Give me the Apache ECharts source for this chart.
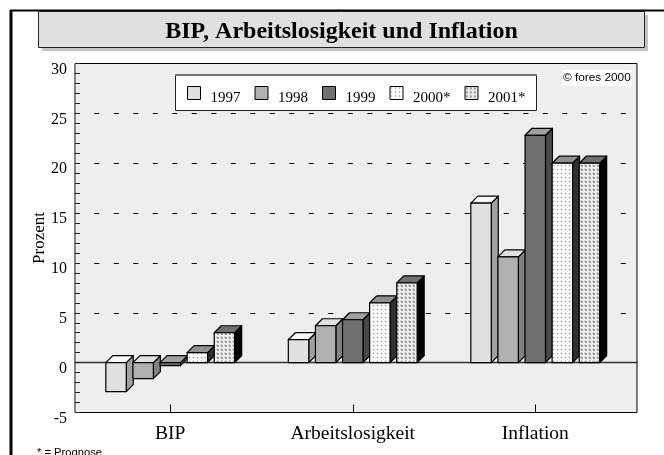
<!DOCTYPE html>
<html>
<head>
<meta charset="utf-8">
<style>html,body{margin:0;padding:0;background:#fff}#chart{width:664px;height:455px}</style>
<script src="https://cdn.jsdelivr.net/npm/echarts@6/dist/echarts.min.js"></script>
</head>
<body>
<div id="chart"></div>
<script>
const categories = ['BIP', 'Arbeitslosigkeit', 'Inflation']
const seriesNames = ['1997', '1998', '1999', '2000*', '2001*']
const values1997 = [-2.9, 2.3, 16]
const values1998 = [-1.6, 3.7, 10.6]
const values1999 = [-0.3, 4.3, 22.8]
const values2000 = [1, 6, 20]
const values2001 = [3, 8, 20]
const allValues = [values1997, values1998, values1999, values2000, values2001]

const serif = '"Liberation Serif", "Times New Roman", serif'
const sans = '"Liberation Sans", Arial, sans-serif'

function dots(bg, halo, fg, size) {
  const c = document.createElement('canvas')
  c.width = 4
  c.height = 4
  const g = c.getContext('2d')
  g.fillStyle = bg
  g.fillRect(0, 0, 4, 4)
  g.fillStyle = halo
  g.fillRect(0, 1, 3, 1)
  g.fillRect(1, 0, 1, 3)
  g.fillStyle = fg
  g.fillRect(1, 1, size, size)
  return { type: 'pattern', image: c, repeat: 'repeat' }
}

// front / top / side face of each year
const faces = [
  { front: '#e0e0e0', top: '#f8f8f8', side: '#a0a0a0' },
  { front: '#b0b0b0', top: '#e0e0e0', side: '#808080' },
  { front: '#707070', top: '#a0a0a0', side: '#484848' },
  { front: dots('#ffffff', '#e8e8e8', '#a0a0a0', 1), top: '#909090', side: '#303030' },
  { front: dots('#eeeeee', '#c4c4c4', '#a0a0a0', 2), top: '#707070', side: '#000000' }
]

const depth = 7

function bar3d(idx) {
  return function (params, api) {
    const catW = api.size([1, 0])[0]
    const w = catW * 0.112
    const pitch = catW * 0.1485
    const center = api.coord([api.value(0), 0])
    const end = api.coord([api.value(0), api.value(1)])
    const x = center[0] + (idx - 2) * pitch - w / 2
    const yTop = Math.min(center[1], end[1])
    const yBot = Math.max(center[1], end[1])
    const line = { stroke: '#000', lineWidth: 1.2, lineJoin: 'round' }
    const f = faces[idx]
    return {
      type: 'group',
      children: [
        {
          type: 'polygon',
          shape: { points: [[x + w, yTop], [x + w + depth, yTop - depth], [x + w + depth, yBot - depth], [x + w, yBot]] },
          style: Object.assign({ fill: f.side }, line)
        },
        {
          type: 'polygon',
          shape: { points: [[x, yTop], [x + depth, yTop - depth], [x + w + depth, yTop - depth], [x + w, yTop]] },
          style: Object.assign({ fill: f.top }, line)
        },
        {
          type: 'rect',
          shape: { x: x, y: yTop, width: w, height: yBot - yTop },
          style: Object.assign({ fill: f.front }, line)
        }
      ]
    }
  }
}

const chart = echarts.init(document.getElementById('chart'), null, { renderer: 'canvas' })

chart.setOption({
  animation: false,
  backgroundColor: '#fff',
  title: [
    {
      text: 'BIP, Arbeitslosigkeit und Inflation',
      left: 341.5,
      top: 20,
      textAlign: 'center',
      padding: 0,
      textStyle: { fontFamily: serif, fontWeight: 'bold', fontSize: 24, color: '#000' }
    },
    {
      text: '© fores 2000',
      left: 562,
      top: 70,
      padding: [2, 1, 2, 1],
      backgroundColor: '#fff',
      textStyle: { fontFamily: sans, fontWeight: 'normal', fontSize: 11.8, color: '#000' }
    },
    {
      text: '* = Prognose',
      left: 37,
      top: 447,
      padding: 0,
      textStyle: { fontFamily: sans, fontWeight: 'normal', fontSize: 11.2, color: '#000' }
    }
  ],
  legend: {
    left: 175,
    top: 74,
    padding: [12, 10, 6, 12],
    itemGap: 14,
    itemWidth: 13,
    itemHeight: 13,
    icon: 'rect',
    formatter: '{a|{name}}',
    textStyle: {
      rich: {
        a: { fontFamily: serif, fontSize: 15, color: '#000', padding: [11, 0, 0, 5] }
      }
    },
    data: seriesNames.map((name, i) => ({
      name: name,
      icon: 'rect',
      itemStyle: { color: faces[i].front, borderColor: '#000', borderWidth: 1 }
    }))
  },
  graphic: [
    // outer frame
    { type: 'line', z: 1, shape: { x1: 10, y1: 10.5, x2: 664, y2: 10.5 }, style: { stroke: '#000', lineWidth: 2 } },
    { type: 'line', z: 1, shape: { x1: 11, y1: 10, x2: 11, y2: 455 }, style: { stroke: '#000', lineWidth: 3 } },
    // title box with shadow
    { type: 'rect', z: 1, shape: { x: 42, y: 15, width: 606, height: 36 }, style: { fill: '#c4c4c4' } },
    { type: 'rect', z: 1, shape: { x: 38.5, y: 11.5, width: 606, height: 36 }, style: { fill: '#e0e0e0', stroke: '#222', lineWidth: 1 } },
    // legend box
    { type: 'rect', z: 3, shape: { x: 175.5, y: 74.5, width: 361, height: 36 }, style: { fill: '#fff', stroke: '#222', lineWidth: 1 } },
    { type: 'line', z: 3, shape: { x1: 175, y1: 75, x2: 537, y2: 75 }, style: { stroke: '#777', lineWidth: 2 } }
  ],
  grid: [
    { left: 75, width: 562, top: 63.5, height: 349, show: true, backgroundColor: '#eeeeee', borderColor: '#000', borderWidth: 1 },
    { left: 79, width: 547.5, top: 63.5, height: 349 }
  ],
  xAxis: [
    {
      type: 'value',
      gridIndex: 0,
      min: 0,
      max: 1,
      axisLine: { show: true, onZero: true, lineStyle: { color: '#333', width: 1.4 } },
      axisTick: { show: false },
      axisLabel: { show: false },
      splitLine: { show: false }
    },
    {
      type: 'category',
      gridIndex: 1,
      data: categories,
      axisLine: { show: false, onZero: false },
      axisTick: { show: true, inside: true, length: 8, alignWithLabel: true, lineStyle: { color: '#000' } },
      axisLabel: { margin: 11, fontFamily: serif, fontSize: 19.5, color: '#000' }
    }
  ],
  yAxis: [
    {
      type: 'value',
      gridIndex: 0,
      min: -5,
      max: 30,
      interval: 5,
      name: 'Prozent',
      nameLocation: 'middle',
      nameGap: 26.5,
      nameMoveOverlap: false,
      nameTextStyle: { fontFamily: serif, fontSize: 17, color: '#000' },
      axisLine: { show: true, lineStyle: { color: '#888' } },
      axisTick: { show: true, inside: true, length: 5, lineStyle: { color: '#222' } },
      minorTick: { show: true, splitNumber: 5, length: 5, lineStyle: { color: '#222' } },
      axisLabel: { margin: 8, fontFamily: serif, fontSize: 16, color: '#000', verticalAlign: 'top', lineHeight: 12 },
      splitLine: { show: false }
    },
    {
      type: 'value',
      gridIndex: 1,
      min: -5,
      max: 30,
      interval: 5,
      axisLine: { show: false },
      axisTick: { show: false },
      axisLabel: { show: false },
      splitLine: {
        show: true,
        showMinLine: false,
        showMaxLine: false,
        lineStyle: { color: '#000', width: 1, type: [5, 14.5], dashOffset: 4.2 }
      }
    }
  ],
  series: seriesNames.map((name, i) => ({
    name: name,
    type: 'custom',
    xAxisIndex: 1,
    yAxisIndex: 1,
    clip: false,
    silent: true,
    renderItem: bar3d(i),
    encode: { x: 0, y: 1 },
    data: allValues[i].map((v, c) => [c, v])
  }))
})
</script>
</body>
</html>
